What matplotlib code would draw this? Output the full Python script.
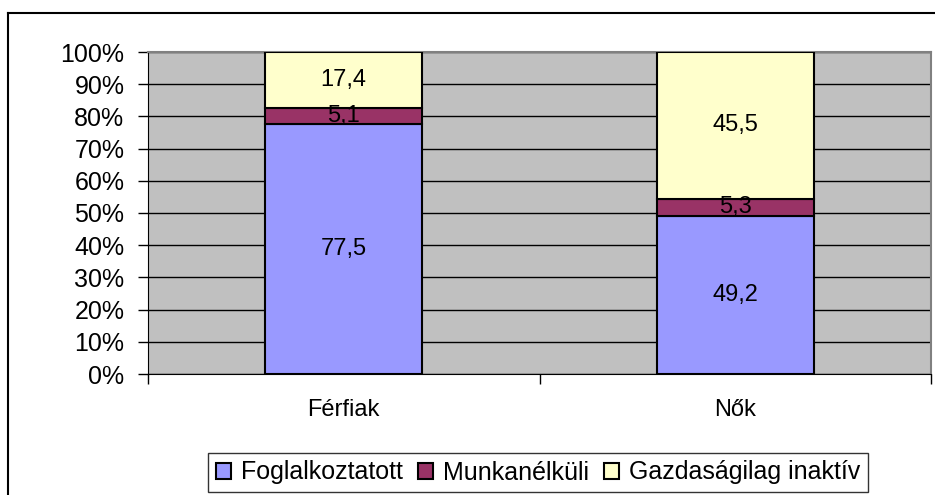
import matplotlib.pyplot as plt
from matplotlib.ticker import FuncFormatter

plt.rcParams['font.family'] = ['Liberation Sans', 'DejaVu Sans']

categories = ['Férfiak', 'Nők']
series_names = ['Foglalkoztatott', 'Munkanélküli', 'Gazdaságilag inaktív']
foglalkoztatott = [77.5, 49.2]
munkanelkuli = [5.1, 5.3]
inaktiv = [17.4, 45.5]
colors = ['#9999FF', '#993366', '#FFFFCC']

fig = plt.figure(figsize=(9.35, 4.95), dpi=100)
# outer chart border (only top and left fall inside the picture)
fig.add_artist(plt.Line2D([8 / 935, 1], [1 - 13 / 495] * 2, transform=fig.transFigure,
                          color='black', linewidth=1.5))
fig.add_artist(plt.Line2D([8 / 935] * 2, [0, 1 - 13 / 495], transform=fig.transFigure,
                          color='black', linewidth=1.5))

ax = fig.add_axes([148 / 935, 1 - 374 / 495, (931 - 148) / 935, (374 - 52) / 495])
ax.set_facecolor('#C0C0C0')

x = list(range(len(categories)))
bottom = [0, 0]
for vals, name, col in zip([foglalkoztatott, munkanelkuli, inaktiv], series_names, colors):
    bars = ax.bar(x, vals, width=0.4, bottom=bottom, color=col, edgecolor='black',
                  linewidth=1.5, label=name, zorder=3)
    for b, v, b0 in zip(bars, vals, bottom):
        ax.text(b.get_x() + b.get_width() / 2, b0 + v / 2, f'{v:.1f}'.replace('.', ','),
                ha='center', va='center', fontsize=17, zorder=4)
    bottom = [b0 + v for b0, v in zip(bottom, vals)]

ax.set_xlim(-0.5, 1.5)
ax.set_ylim(0, 100)
ax.set_yticks(range(0, 101, 10))
ax.yaxis.set_major_formatter(FuncFormatter(lambda v, p: f'{v:.0f}%'))
ax.grid(axis='y', color='black', linewidth=1, zorder=1)
ax.set_axisbelow(True)

ax.set_xticks(x)
ax.set_xticklabels(categories)
ax.set_xticks([-0.5, 0.5, 1.5], minor=True)
ax.tick_params(axis='x', which='major', length=0, pad=18, labelsize=17)
ax.tick_params(axis='x', which='minor', length=7, width=1)
ax.tick_params(axis='y', length=7, width=1, labelsize=18, pad=10)

for s in ['top', 'right']:
    ax.spines[s].set_color('#808080')
    ax.spines[s].set_linewidth(1.5)
ax.spines['left'].set_color('black')
ax.spines['bottom'].set_color('black')

leg = fig.legend(loc='center', bbox_to_anchor=(538 / 935, 1 - 472.5 / 495), ncol=3,
                 frameon=True, fancybox=False, edgecolor='black', fontsize=18,
                 handlelength=0.6, handleheight=0.6, handletextpad=0.4,
                 columnspacing=0.6, borderpad=0.3)
leg.get_frame().set_linewidth(1)

fig.savefig('out.png', dpi=100)
